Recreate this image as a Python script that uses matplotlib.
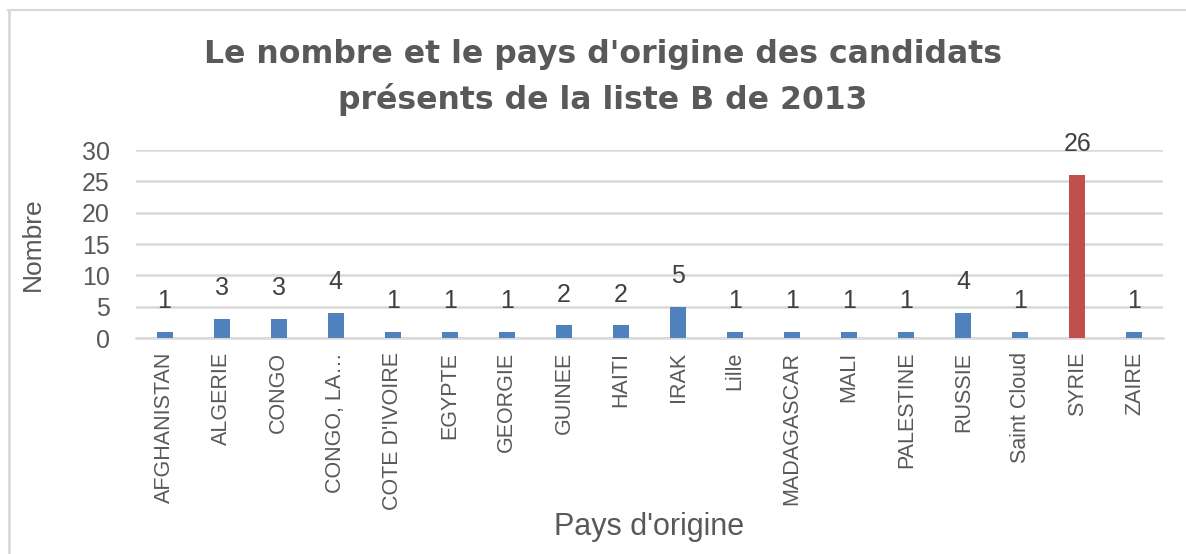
import matplotlib
matplotlib.use("Agg")
import matplotlib.pyplot as plt
from matplotlib.lines import Line2D

# Données
pays = ["AFGHANISTAN", "ALGERIE", "CONGO", "CONGO, LA\u2026", "COTE D'IVOIRE",
        "EGYPTE", "GEORGIE", "GUINEE", "HAITI", "IRAK", "Lille", "MADAGASCAR",
        "MALI", "PALESTINE", "RUSSIE", "Saint Cloud", "SYRIE", "ZAIRE"]
nombre = [1, 3, 3, 4, 1, 1, 1, 2, 2, 5, 1, 1, 1, 1, 4, 1, 26, 1]
yticks = [0, 5, 10, 15, 20, 25, 30]

BLEU = "#4F81BD"
ROUGE = "#C0504D"
GRIS_TEXTE = "#595959"
GRIS_GRILLE = "#D9D9D9"

W, H = 1186, 554
fig = plt.figure(figsize=(W / 100, H / 100), dpi=100)
fig.patch.set_facecolor("white")

# cadre du graphique (haut + gauche)
fig.add_artist(Line2D([8 / W, 1], [1 - 10 / H, 1 - 10 / H], color="#D9D9D9", lw=1.5,
                      transform=fig.transFigure))
fig.add_artist(Line2D([9 / W, 9 / W], [0, 1 - 10 / H], color="#D9D9D9", lw=2,
                      transform=fig.transFigure))

ax = fig.add_axes([136 / W, 216 / H, (1163 - 136) / W, 188 / H])

couleurs = [ROUGE if n == max(nombre) else BLEU for n in nombre]
x = list(range(len(pays)))
bars = ax.bar(x, nombre, width=0.28, color=couleurs, zorder=3)

for b, n in zip(bars, nombre):
    ax.text(b.get_x() + b.get_width() / 2, n + 4.9, str(n), ha="center", va="center",
            fontsize=18, color="#404040", family="Liberation Sans")

ax.set_xlim(-0.5, len(pays) - 0.5)
ax.set_ylim(0, 30)
ax.set_yticks(yticks)
ax.set_yticklabels([str(v) for v in yticks], fontsize=18, color=GRIS_TEXTE,
                   family="Liberation Sans")
ax.set_xticks(x)
ax.set_xticklabels(pays, rotation=90, fontsize=15.5, color=GRIS_TEXTE,
                   family="Liberation Sans")
ax.tick_params(axis="both", length=0)
ax.tick_params(axis="y", pad=19)
ax.tick_params(axis="x", pad=10)

ax.grid(True, axis="y", color=GRIS_GRILLE, lw=1.8, zorder=0)
for s in ["top", "right", "left"]:
    ax.spines[s].set_visible(False)
ax.spines["bottom"].set_color(GRIS_GRILLE)
ax.spines["bottom"].set_linewidth(1.8)

ax.set_ylabel("Nombre", fontsize=19, color=GRIS_TEXTE, family="Liberation Sans")
ax.yaxis.set_label_coords(-91 / 1027, 0.5)
fig.text(649 / W, 1 - 527 / H, "Pays d'origine", ha="center", va="center",
         fontsize=22, color=GRIS_TEXTE, family="Liberation Sans")

fig.text(603 / W, 1 - 55 / H, "Le nombre et le pays d'origine des candidats",
         ha="center", va="center", fontsize=22.7, fontweight="bold", color=GRIS_TEXTE,
         family="DejaVu Sans")
fig.text(603 / W, 1 - 99 / H, "présents de la liste B de 2013",
         ha="center", va="center", fontsize=22.7, fontweight="bold", color=GRIS_TEXTE,
         family="DejaVu Sans")

fig.savefig("out.png", dpi=100)
